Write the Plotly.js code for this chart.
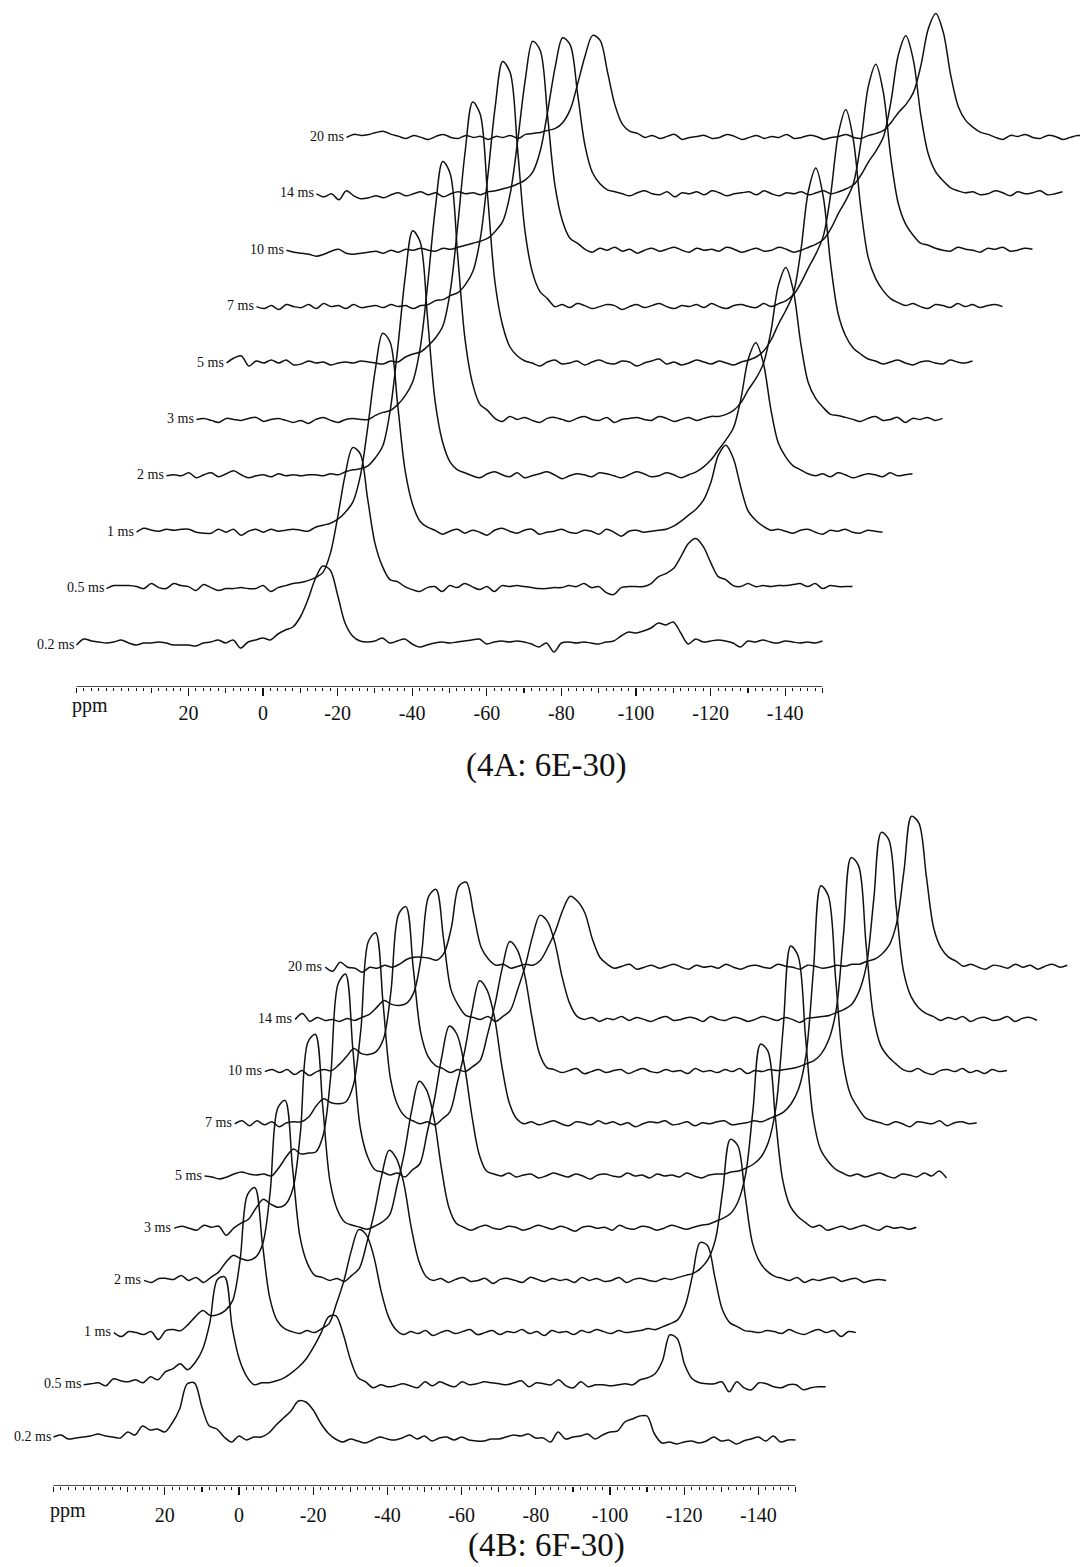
<!DOCTYPE html>
<html><head><meta charset="utf-8">
<script src="https://cdn.plot.ly/plotly-3.0.1.min.js"></script>
<style>html,body{margin:0;padding:0;background:#fff}#chart{width:1080px;height:1567px}</style>
</head><body><div id="chart"></div>
<script>
// chemical shift grid (ppm) shared by every spectrum
const ppm = [50,48,46,44,42,40,38,36,34,32,
30,28,26,24,22,20,18,16,14,12,
10,8,6,4,2,0,-2,-4,-6,-8,
-10,-12,-14,-16,-18,-20,-22,-24,-26,-28,
-30,-32,-34,-36,-38,-40,-42,-44,-46,-48,
-50,-52,-54,-56,-58,-60,-62,-64,-66,-68,
-70,-72,-74,-76,-78,-80,-82,-84,-86,-88,
-90,-92,-94,-96,-98,-100,-102,-104,-106,-108,
-110,-112,-114,-116,-118,-120,-122,-124,-126,-128,
-130,-132,-134,-136,-138,-140,-142,-144,-146,-148,
-150];

// contact times (trace labels)
const contactTimes = ['0.2 ms','0.5 ms','1 ms','2 ms','3 ms','5 ms','7 ms','10 ms','14 ms','20 ms'];

// axis ticks
const tickVals20 = [40,20,0,-20,-40,-60,-80,-100,-120,-140];
const tickText20 = ['','20','0','-20','-40','-60','-80','-100','-120','-140'];
const tickVals10 = [50,30,10,-10,-30,-50,-70,-90,-110,-130,-150];
const axisLabel = 'ppm';
const titleA = '(4A: 6E-30)';
const titleB = '(4B: 6F-30)';

// ---- Panel 4A (6E-30) intensities ----
const specA_02 = [0,6,4,3,2,3,5,2,0,2, 2,3,2,0,0,0,-1,2,3,5, 2,5,-3,3,5,7,5,11,15,18,
28,45,66,79,75,50,22,9,4,3, 4,7,2,4,6,1,-2,0,2,3, 2,3,4,5,6,1,3,4,3,4,
3,1,-2,2,-7,2,3,2,3,2, 1,3,4,9,13,12,14,17,22,20, 23,12,1,6,3,4,5,4,2,-2, 4,3,5,3,2,4,3,2,3,2, 4];
const specA_05 = [0,3,3,3,2,0,5,1,0,5, 3,2,-2,4,1,-2,0,0,1,0, 0,3,-3,1,3,5,6,8,11,16,
35,72,114,141,135,90,45,22,9,7, 2,-1,-3,1,2,-3,3,1,5,2, -1,2,-3,3,2,3,2,1,0,0,
1,1,3,2,5,1,2,-4,-6,1, 2,2,2,5,12,15,20,32,45,50, 42,26,12,9,3,2,5,2,3,2, 3,3,4,5,2,5,0,3,2,2, 2];
const specA_1 = [0,4,2,1,3,2,3,3,0,-1, -1,3,0,3,-3,1,3,0,3,1, 2,3,2,1,5,7,9,13,20,30,
56,105,162,199,190,128,62,28,11,5, 2,-2,1,3,-1,2,0,-3,2,4, 1,-1,2,3,-2,0,1,3,0,-1,
2,1,-2,3,0,-4,1,2,0,1, 2,3,6,11,17,23,32,50,77,87, 74,45,21,12,6,2,3,1,-1,2, 3,0,-2,2,1,3,0,-1,2,1, 0];
const specA_2 = [0,1,0,3,-2,1,3,-1,2,5, 1,-2,0,1,-1,2,0,1,0,1, 1,0,2,1,4,6,7,10,18,30,
66,128,199,245,234,157,75,34,14,6, 3,0,-2,2,4,1,-1,3,-2,0, 2,4,1,-3,0,2,1,-1,3,2,
0,-2,1,4,2,-1,0,3,1,-2, 1,4,9,16,26,36,48,77,117,133, 113,67,33,19,10,6,2,0,2,-1, 3,1,-2,0,2,1,-1,3,0,1, 2];
const specA_3 = [0,1,-1,-3,1,0,-1,1,2,-2, 0,1,-1,-3,-1,-4,0,2,-1,-3, 0,1,0,0,4,7,9,15,24,38,
72,136,210,258,246,165,80,36,15,9, 1,-2,3,0,2,-1,-3,1,2,0, -2,1,3,0,-1,2,-3,0,1,2,
0,-1,3,1,-2,0,2,-1,1,3, 3,5,9,17,30,41,56,88,134,152, 129,76,37,21,12,5,4,2,0,-2, 1,3,-1,0,2,-3,1,0,2,-1, 1];
const specA_5 = [0,5,7,-3,2,0,3,0,3,-2, -1,2,0,1,-2,0,1,0,2,1, 0,-1,2,1,6,9,11,17,25,37,
72,138,212,261,249,167,80,38,16,7, 2,0,-3,1,3,-1,0,2,-2,1, 3,0,-1,2,1,-3,0,2,4,-1,
1,-2,0,3,1,-1,2,0,-2,1, 3,6,12,23,39,53,70,113,172,195, 166,98,49,27,15,9,4,2,-1,1, 3,0,-2,1,2,0,-1,3,1,0, 2];
const specA_7 = [0,-2,1,-3,2,0,-1,2,-2,3, 0,1,-2,2,-1,0,1,-1,2,0, 1,-2,1,2,6,7,11,14,22,35,
68,130,200,245,234,157,75,34,15,8, 0,2,-1,3,1,-2,0,2,1,-3, 0,2,-1,1,3,0,-2,1,0,2,
-1,3,0,-2,1,2,0,-1,3,0, 3,6,12,24,39,53,71,114,173,197, 167,99,49,28,16,8,4,1,3,0, -2,2,1,-1,3,0,2,-1,1,2, 0];
const specA_10 = [0,-2,-3,-4,-6,-4,-1,1,-3,-4, -3,-2,-1,-3,0,-2,1,0,2,0, -1,2,1,3,5,7,9,12,19,29,
57,110,170,209,200,134,64,29,12,7, 1,-2,2,0,3,-1,1,-3,0,2, -1,1,3,0,-2,2,0,1,-1,3,
1,-2,0,2,-1,0,3,1,-2,0, 3,6,11,22,37,50,67,108,164,186, 158,93,47,26,15,7,5,2,0,-1, 3,1,0,-2,2,1,3,-1,0,2, 1];
const specA_14 = [0,-3,0,-6,3,-2,-5,-4,-2,-4, -1,1,-2,0,2,-1,1,-3,0,2, 0,1,-1,2,3,5,7,10,14,22,
43,83,127,156,149,100,48,21,10,4, 2,0,-2,1,3,0,-1,2,-3,1, 0,2,-1,3,1,-2,0,1,2,-1,
3,0,-2,1,0,2,-1,1,3,0, 2,5,9,19,32,43,57,92,139,158, 134,79,40,22,13,6,3,1,2,-1, 0,3,1,-2,2,0,1,3,-1,0, 2];
const specA_20 = [0,3,2,3,5,6,3,1,-1,2, 0,-2,1,3,0,-1,2,0,1,-2, 1,0,2,-1,3,4,5,7,9,15,
28,54,82,102,97,65,32,13,6,4, 0,2,-1,1,3,-2,0,1,2,-1, 0,3,1,-2,0,2,-1,1,0,3,
-1,0,2,1,-2,0,1,3,0,-1, 2,4,7,15,25,33,45,72,109,124, 105,62,31,17,10,5,3,0,-2,2, 1,3,0,-1,2,1,-2,0,2,1, 0];

// ---- Panel 4B (6F-30) intensities ----
const specB_02 = [0,2,-2,-1,0,1,3,1,0,-1, 5,2,11,7,8,5,14,28,53,54, 30,11,8,0,-5,1,-3,0,0,4,
12,19,26,36,35,27,14,4,-2,-5, -2,-4,-6,-3,0,-2,-3,-1,2,-2, 1,-4,-1,0,-3,0,-3,-4,-4,-2,
-2,0,2,1,3,-1,-1,-5,5,-2, 0,1,3,-2,2,5,6,15,18,21, 21,3,-6,-5,-7,-5,-4,-6,-4,0, -4,-3,-7,-4,-2,0,-4,1,-5,-3, -3];
const specB_05 = [0,1,2,-1,6,4,3,5,2,8, 5,13,16,21,15,22,35,62,105,108, 58,25,8,0,2,2,4,7,12,18,
26,38,52,68,69,50,24,7,3,-3, 0,-2,-1,1,-1,-3,3,-1,3,0, -2,3,0,1,3,2,1,0,2,4,
-2,2,1,0,5,-1,-3,3,-2,0, 0,-1,0,1,0,5,7,11,24,50, 46,20,6,2,1,1,3,-7,3,-3, -5,2,1,-2,-3,0,0,-5,-3,-2, -2];
const specB_1 = [0,-4,1,0,-2,1,-7,2,3,2, 8,16,22,17,18,22,32,72,138,145, 90,35,12,4,1,-1,2,0,4,9,
29,52,82,103,98,77,42,16,3,-2, 1,-1,2,-3,0,2,-1,1,3,-2, 0,2,-2,1,0,3,-1,1,-3,2,
0,1,-2,2,0,3,1,-1,2,0, 1,2,4,3,6,9,13,27,58,90, 87,55,23,10,6,2,1,0,2,1, -1,3,0,-2,1,3,0,2,-4,1, 0];
const specB_2 = [0,-2,2,2,1,5,0,3,-2,3, 8,18,25,22,20,23,37,89,172,180, 113,44,17,5,3,0,2,-1,5,12,
37,67,104,130,122,97,53,20,4,0, 2,-2,1,3,-1,0,2,-3,1,2, 0,-2,3,1,-1,2,0,1,-2,3,
0,2,-1,0,3,-2,1,2,0,-1, 2,1,3,5,7,12,21,41,91,141, 135,85,37,18,9,4,2,0,3,-2, 1,0,2,3,-1,1,2,-2,0,1, 0];
const specB_3 = [0,2,0,-2,3,1,2,-7,0,5, 9,20,29,24,21,24,40,96,186,194, 122,46,18,6,3,1,-1,2,6,13,
42,75,118,147,138,110,60,21,5,1, -2,1,3,0,-1,2,1,-2,0,3, 1,-1,2,0,-3,1,2,0,1,-2,
3,0,-1,2,1,-2,0,3,1,-1, 1,3,4,7,10,15,27,54,119,184, 177,111,48,22,12,6,1,3,-2,0, 2,-1,1,3,0,-2,2,0,1,-1, 1];
const specB_5 = [0,-1,-3,-1,2,4,2,1,2,0, 8,19,27,22,23,24,41,99,192,202, 126,48,19,6,4,1,3,-1,6,12,
43,77,120,150,142,112,62,22,5,2, 0,3,-1,1,2,-2,0,3,1,-1, 2,0,-3,1,2,0,-1,3,0,1,
-2,2,0,1,-1,3,0,-2,1,2, 2,4,5,8,12,19,34,68,149,230, 220,139,60,27,15,7,3,0,2,-1, 1,3,0,-2,2,1,-1,3,0,5, -2];
const specB_7 = [0,3,-2,3,-1,2,-3,1,2,2, 7,18,25,21,20,22,39,94,182,191, 120,45,18,7,3,0,2,-1,5,12,
41,73,114,143,134,107,58,21,5,0, 2,-1,1,3,0,-2,2,1,-1,3, 0,2,-1,1,-3,0,2,1,3,-1,
0,2,-2,1,0,2,3,-1,0,1, 3,2,5,8,12,20,35,69,154,238, 228,144,62,29,16,6,3,1,-1,2, 0,-3,2,1,0,3,-2,1,2,0, 1];
const specB_10 = [0,2,-1,2,-3,1,-4,0,2,1, 7,15,23,18,17,20,33,81,157,165, 103,39,15,6,3,-1,2,0,5,11,
37,67,104,130,122,97,54,18,4,2, -1,1,3,-2,0,2,-1,1,2,-2, 1,3,0,-1,2,0,1,-2,3,0,
1,-1,2,0,3,-2,1,0,2,1, 2,3,5,8,11,18,32,62,139,214, 206,129,56,26,15,8,2,0,3,-1, -3,1,2,0,3,-1,1,-2,2,0, 1];
const specB_14 = [0,6,-2,2,-1,0,-2,1,-1,2, 5,12,19,15,14,16,27,63,123,130, 81,30,14,4,2,0,3,-2,3,9,
30,53,83,104,98,77,42,16,3,0, 2,-2,1,0,3,-1,2,0,-2,1, 3,-1,0,2,1,-2,3,0,-1,2,
1,-2,0,3,1,-1,2,0,-3,1, 2,3,4,7,10,15,28,54,121,187, 180,113,48,23,12,6,3,-1,2,0, 3,-2,1,2,-1,0,3,-2,1,2, -1];
const specB_20 = [0,-4,5,0,-1,-5,0,-1,2,0, 3,8,10,10,9,7,14,40,81,85, 53,20,8,2,3,-1,1,3,2,7,
20,36,57,71,66,54,28,10,3,-1, 1,3,-2,0,2,-1,1,3,0,-2, 2,0,1,-1,3,0,-2,1,2,0,
-1,3,1,0,-2,2,1,-1,0,2, 1,3,3,6,8,13,22,44,97,151, 144,91,39,19,10,6,1,3,0,-2, 2,1,-1,3,0,2,-2,1,3,0, 2];

const spectraA = [specA_02,specA_05,specA_1,specA_2,specA_3,specA_5,specA_7,specA_10,specA_14,specA_20];
const spectraB = [specB_02,specB_05,specB_1,specB_2,specB_3,specB_5,specB_7,specB_10,specB_14,specB_20];

// ---- layout geometry (page pixels) ----
const W = 1080, H = 1567;
const ppmHi = 50, ppmLo = -150;
const panels = [
  {key:'A', spectra: spectraA, axisY: 687, topY: 0, left: 76.5, pxPerPpm: 3.73, base0: 42, baseStep: 56.4, shiftPx: 30.0,
   xa:'x', xo:'x2', ya:'y', title: titleA, titleX: 546, titleY: 765, ppmX: 90, ppmY: 705, standoff: 0},
  {key:'B', spectra: spectraB, axisY: 1486, topY: 700, left: 53.5, pxPerPpm: 3.71, base0: 49, baseStep: 52.2, shiftPx: 30.2,
   xa:'x3', xo:'x4', ya:'y2', title: titleB, titleX: 546, titleY: 1545, ppmX: 68, ppmY: 1510, standoff: 3}
];

const minorVals = [];
for (let v = ppmHi; v >= ppmLo; v -= 2) minorVals.push(v);

const serif = 'Liberation Serif, Times New Roman, serif';
const ink = '#111111';
const traces = [], annotations = [], shapes = [];
const layout = {
  width: W, height: H, autosize: false,
  margin: {l:0, r:0, t:0, b:0, pad:0},
  paper_bgcolor: '#fff', plot_bgcolor: '#fff',
  showlegend: false, font: {family: serif, color: ink}
};

function axName(id){ return id === 'x' ? 'xaxis' : 'xaxis' + id.slice(1); }
function yName(id){ return id === 'y' ? 'yaxis' : 'yaxis' + id.slice(1); }

panels.forEach(P => {
  const xr = [ppmHi + P.left / P.pxPerPpm, ppmHi - (W - P.left) / P.pxPerPpm];
  const yd = [(H - P.axisY) / H, (H - P.topY) / H];
  layout[yName(P.ya)] = {domain: yd, range: [0, P.axisY - P.topY], visible: false, fixedrange: true};
  layout[axName(P.xa)] = {
    domain: [0,1], range: xr, anchor: P.ya, autorange: false,
    showgrid: false, zeroline: false, showline: false,
    tickmode: 'array', tickvals: tickVals20, ticktext: tickText20,
    ticks: 'outside', ticklen: 8, tickwidth: 1.3, tickcolor: ink,
    tickfont: {family: serif, size: 20, color: ink}, ticklabelstandoff: P.standoff,
    minor: {tickmode: 'array', tickvals: minorVals, ticks: 'outside', ticklen: 2.5, tickwidth: 1, tickcolor: ink, showgrid: false}
  };
  layout[axName(P.xo)] = {
    overlaying: P.xa, anchor: P.ya, range: xr, autorange: false,
    showgrid: false, zeroline: false, showline: false, showticklabels: false,
    tickmode: 'array', tickvals: tickVals10,
    ticks: 'outside', ticklen: 5, tickwidth: 1.2, tickcolor: ink
  };
  const shiftPpm = P.shiftPx / P.pxPerPpm;
  P.spectra.forEach((spec, i) => {
    const base = P.base0 + i * P.baseStep;
    traces.push({
      type: 'scatter', mode: 'lines',
      x: ppm.map(p => p - i * shiftPpm),
      y: spec.map(v => base + v),
      xaxis: i === 0 ? P.xo : P.xa, yaxis: P.ya,
      line: {color: ink, width: 1.5, shape: 'spline', smoothing: 0.9},
      hoverinfo: 'skip', showlegend: false
    });
    annotations.push({
      xref: P.xa, yref: P.ya, x: ppmHi - i * shiftPpm, y: base,
      xanchor: 'right', yanchor: 'middle', xshift: -1, yshift: 1, showarrow: false,
      text: contactTimes[i], font: {family: serif, size: 14, color: ink}
    });
  });
  shapes.push({type: 'line', xref: P.xa, yref: P.ya, x0: ppmHi, x1: ppmLo, y0: 0, y1: 0,
               line: {color: ink, width: 1.6}});
  annotations.push({xref: 'paper', yref: 'paper', x: P.ppmX / W, y: 1 - P.ppmY / H,
    xanchor: 'center', yanchor: 'middle', showarrow: false, text: axisLabel,
    font: {family: serif, size: 20, color: ink}});
  annotations.push({xref: 'paper', yref: 'paper', x: P.titleX / W, y: 1 - P.titleY / H,
    xanchor: 'center', yanchor: 'middle', showarrow: false, text: P.title,
    font: {family: serif, size: 33, color: ink}});
});
layout.annotations = annotations;
layout.shapes = shapes;

Plotly.newPlot('chart', traces, layout, {staticPlot: true, displayModeBar: false});
</script>
</body></html>
